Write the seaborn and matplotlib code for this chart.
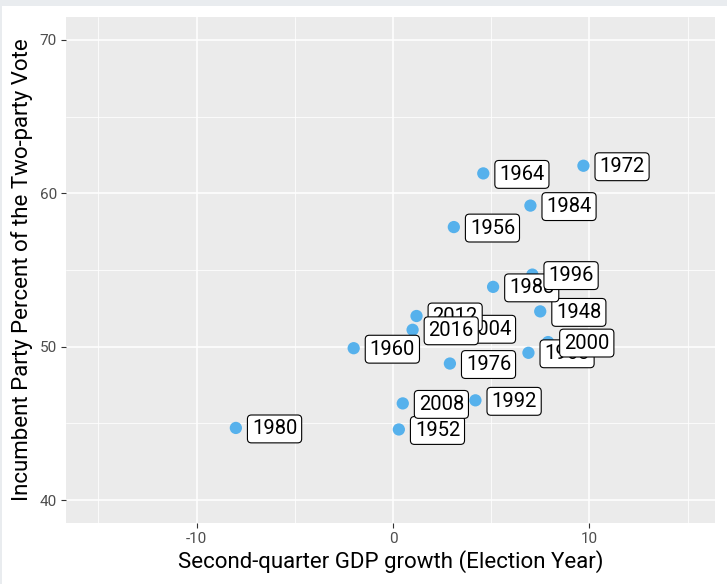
import pandas as pd
import numpy as np
import matplotlib.pyplot as plt
import seaborn as sns
from matplotlib.patches import Rectangle
from matplotlib.ticker import MultipleLocator

# Election data
years = [1948, 1952, 1956, 1960, 1964, 1968, 1972, 1976, 1980, 1984,
         1988, 1992, 1996, 2000, 2004, 2008, 2012, 2016]
gdp_growth = [7.5, 0.3, 3.1, -2.0, 4.6, 6.9, 9.7, 2.9, -8.0, 7.0,
              5.1, 4.2, 7.1, 7.9, 2.9, 0.5, 1.2, 1.0]
incumbent_vote = [52.3, 44.6, 57.8, 49.9, 61.3, 49.6, 61.8, 48.9, 44.7, 59.2,
                  53.9, 46.5, 54.7, 50.3, 51.2, 46.3, 52.0, 51.1]

df = pd.DataFrame({"year": years, "gdp": gdp_growth, "vote": incumbent_vote})

sns.set_theme(style="darkgrid", rc={
    "axes.facecolor": "#EBEBEB",
    "grid.color": "white",
    "axes.edgecolor": "none",
    "xtick.bottom": True,
    "ytick.left": True,
    "xtick.color": "#333333",
    "ytick.color": "#333333",
    "axes.unicode_minus": False,
})
plt.rcParams["font.family"] = ["Roboto", "DejaVu Sans"]

fig = plt.figure(figsize=(7.27, 5.84), dpi=100)
fig.patch.set_facecolor("#E9ECEF")
fig.add_artist(Rectangle((2 / 727, 0), 1, 578 / 584, transform=fig.transFigure,
                         facecolor="white", edgecolor="none", zorder=-1))
ax = fig.add_axes([66 / 727, 61 / 584, 649 / 727, 506 / 584])

sns.scatterplot(data=df, x="gdp", y="vote", color="#56B1EC", s=78,
                edgecolor="none", ax=ax, zorder=3)

for yr, gx, vy in zip(years, gdp_growth, incumbent_vote):
    ax.annotate(str(yr), (gx, vy),
                xytext=(16, -1), textcoords="offset pixels",
                ha="left", va="center", fontsize=14.5, color="black", zorder=4,
                bbox=dict(boxstyle="round,pad=0.22,rounding_size=0.2",
                          facecolor="white", edgecolor="black", linewidth=0.8))

ax.set_xlim(-16.65, 16.4)
ax.set_ylim(38.5, 71.5)
ax.xaxis.set_major_locator(MultipleLocator(10))
ax.xaxis.set_minor_locator(MultipleLocator(5))
ax.yaxis.set_major_locator(MultipleLocator(10))
ax.yaxis.set_minor_locator(MultipleLocator(5))
ax.grid(which="major", color="white", linewidth=1.1)
ax.grid(which="minor", color="white", linewidth=0.55)
ax.tick_params(axis="both", which="major", length=3.5, width=0.8,
               labelsize=11, labelcolor="#4D4D4D", pad=3)
ax.tick_params(axis="both", which="minor", length=0)

ax.set_xlabel("Second-quarter GDP growth (Election Year)", fontsize=16,
              color="black", labelpad=3)
ax.set_ylabel("Incumbent Party Percent of the Two-party Vote", fontsize=16,
              color="black", labelpad=5)

fig.savefig("out.png", dpi=100)
